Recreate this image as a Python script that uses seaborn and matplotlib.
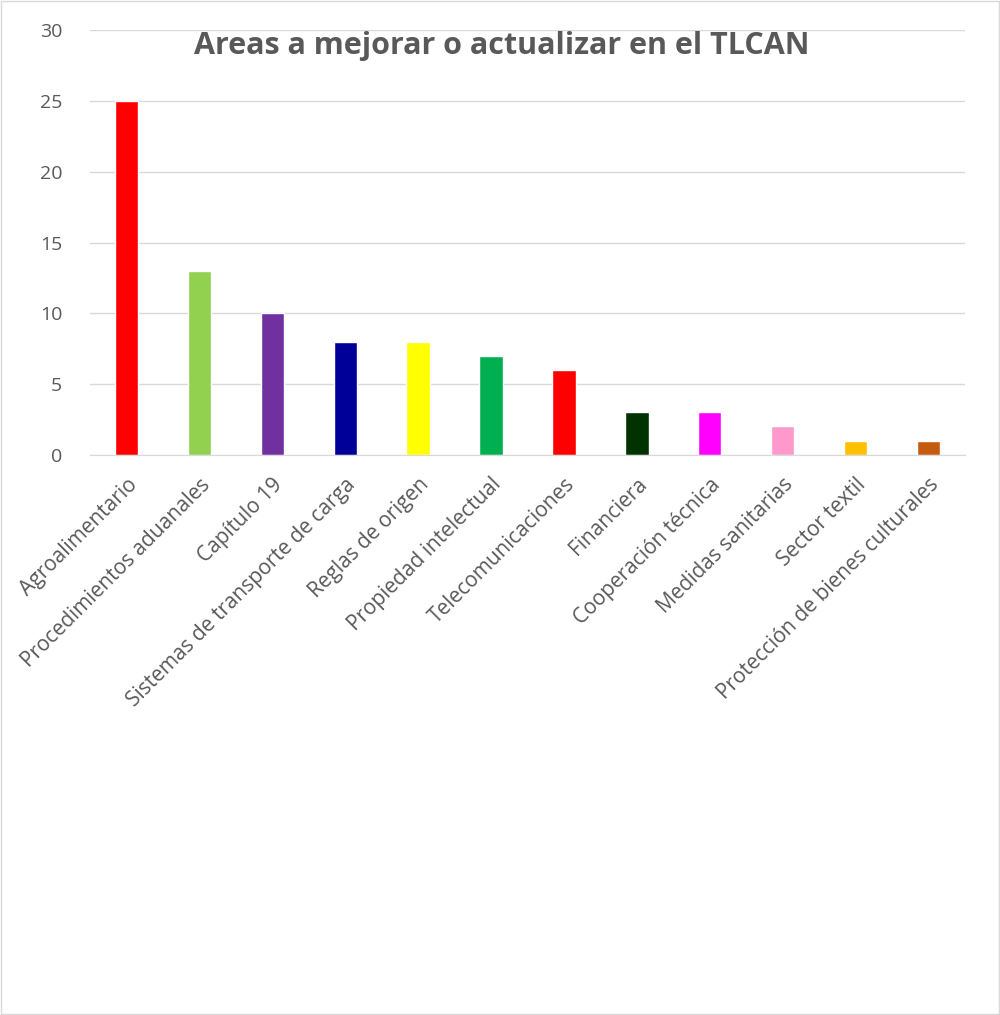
import matplotlib
matplotlib.use('Agg')
import matplotlib.pyplot as plt
import seaborn as sns
import pandas as pd

# Datos del gráfico
categorias = ['Agroalimentario', 'Procedimientos aduanales', 'Capítulo 19',
              'Sistemas de transporte de carga', 'Reglas de origen',
              'Propiedad intelectual', 'Telecomunicaciones', 'Financiera',
              'Cooperación técnica', 'Medidas sanitarias', 'Sector textil',
              'Protección de bienes culturales']
valores = [25, 13, 10, 8, 8, 7, 6, 3, 3, 2, 1, 1]
colores = ['#FF0000', '#92D050', '#7030A0', '#000099', '#FFFF00', '#00B050',
           '#FF0000', '#003300', '#FF00FF', '#FF99CC', '#FFC000', '#C55A11']
ticks_y = [0, 5, 10, 15, 20, 25, 30]

df = pd.DataFrame({'Area': categorias, 'Valor': valores})

sns.set_style('white')
plt.rcParams['font.family'] = ['Open Sans', 'DejaVu Sans']

fig = plt.figure(figsize=(10, 10.15), dpi=100)
ax = fig.add_axes([0.09, 0.552, 0.875, 0.418])

sns.barplot(data=df, x='Area', y='Valor', hue='Area', palette=colores,
            legend=False, width=0.32, dodge=False, saturation=1, ax=ax)

ax.set_ylim(0, 30)
ax.set_yticks(ticks_y)
ax.set_xlim(-0.5, len(categorias) - 0.5)
ax.yaxis.grid(True, color='#D9D9D9', linewidth=1)
ax.set_axisbelow(True)
for s in ['top', 'right', 'left']:
    ax.spines[s].set_visible(False)
ax.spines['bottom'].set_color('#D9D9D9')
ax.tick_params(axis='y', length=0, labelsize=14, labelcolor='#595959', pad=20)
ax.tick_params(axis='x', length=0, labelsize=15, labelcolor='#595959', pad=14)
ax.set_xlabel('')
ax.set_ylabel('')
plt.setp(ax.get_xticklabels(), rotation=45, ha='right', rotation_mode='anchor')

fig.text(0.502, 0.955, 'Areas a mejorar o actualizar en el TLCAN', fontsize=22,
         fontweight='bold', color='#595959', ha='center', va='center')

# marco exterior
fig.patches.append(plt.Rectangle((0.001, 0.001), 0.998, 0.998, transform=fig.transFigure,
                                 fill=False, edgecolor='#D9D9D9', linewidth=1))

fig.savefig('out.png', dpi=100)
